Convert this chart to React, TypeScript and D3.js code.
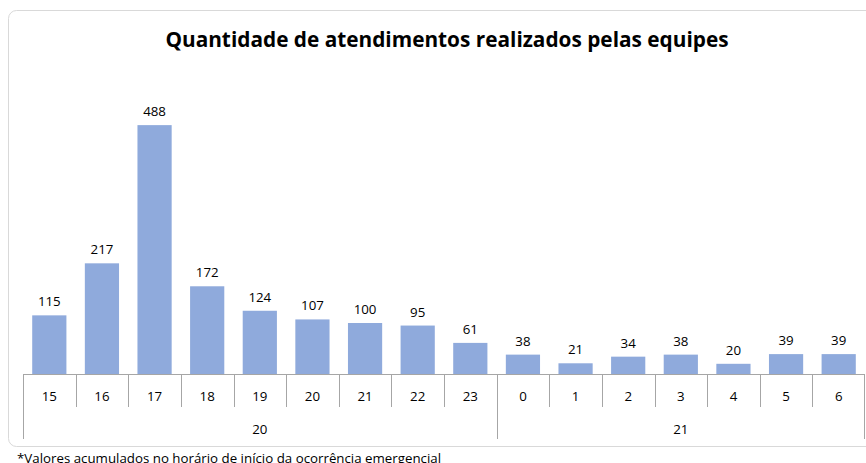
import React, { useRef, useEffect } from 'react'
import * as d3 from 'd3'

// hours (x categories), grouped by day
const hours = ['15', '16', '17', '18', '19', '20', '21', '22', '23', '0', '1', '2', '3', '4', '5', '6']
const days = ['20', '20', '20', '20', '20', '20', '20', '20', '20', '21', '21', '21', '21', '21', '21', '21']
const atendimentos = [115, 217, 488, 172, 124, 107, 100, 95, 61, 38, 21, 34, 38, 20, 39, 39]

const title = 'Quantidade de atendimentos realizados pelas equipes'
const footnote = '*Valores acumulados no horário de início da ocorrência emergencial'

const W = 866
const H = 463

const App = () => {
  const ref = useRef<SVGSVGElement>(null)

  useEffect(() => {
    const svg = d3.select(ref.current)
    svg.selectAll('*').remove()

    const font = 'Open Sans, Noto Sans, sans-serif'
    const left = 23, right = 865, base = 374

    // chart frame
    svg.append('rect')
      .attr('x', 8.5).attr('y', 10.5)
      .attr('width', 900).attr('height', 436)
      .attr('rx', 8)
      .attr('fill', '#fff')
      .attr('stroke', '#d9d9d9')

    svg.append('text')
      .attr('x', 447).attr('y', 47)
      .attr('text-anchor', 'middle')
      .style('font-family', font)
      .style('font-weight', 700)
      .style('font-size', '20.8px')
      .attr('fill', '#000')
      .text(title)

    const x = d3.scaleBand().domain(hours.map((h, i) => i + '')).range([left, right]).paddingInner(0.35).paddingOuter(0.175)
    const y = d3.scaleLinear().domain([0, 600]).range([base, base - 306])

    const g = svg.append('g')

    g.selectAll('rect.bar')
      .data(atendimentos)
      .join('rect')
      .attr('class', 'bar')
      .attr('x', (d, i) => x(i + '')!)
      .attr('y', d => y(d))
      .attr('width', x.bandwidth())
      .attr('height', d => base - y(d))
      .attr('fill', '#8faadc')

    g.selectAll('text.val')
      .data(atendimentos)
      .join('text')
      .attr('class', 'val')
      .attr('x', (d, i) => x(i + '')! + x.bandwidth() / 2)
      .attr('y', d => y(d) - 9)
      .attr('text-anchor', 'middle')
      .style('font-family', font)
      .style('font-size', '13.3px')
      .attr('fill', '#000')
      .text(d => d)

    // baseline
    g.append('line')
      .attr('x1', left).attr('x2', right)
      .attr('y1', base + 0.5).attr('y2', base + 0.5)
      .attr('stroke', '#a6a6a6')

    const step = x.step()
    // hour tick separators
    hours.forEach((h, i) => {
      const xx = Math.round(left + i * step) + 0.5
      const isGroupEdge = i === 0 || days[i] !== days[i - 1]
      g.append('line')
        .attr('x1', xx).attr('x2', xx)
        .attr('y1', base).attr('y2', isGroupEdge ? 439 : 407)
        .attr('stroke', '#a6a6a6')
      g.append('text')
        .attr('x', left + (i + 0.5) * step)
        .attr('y', 401)
        .attr('text-anchor', 'middle')
        .style('font-family', font)
        .style('font-size', '13.3px')
        .attr('fill', '#000')
        .text(h)
    })
    g.append('line')
      .attr('x1', right - 0.5).attr('x2', right - 0.5)
      .attr('y1', base).attr('y2', 439)
      .attr('stroke', '#a6a6a6')

    // day group labels
    const groups = d3.groups(days.map((d, i) => ({ d, i })), e => e.d)
    groups.forEach(([day, items]) => {
      const first = items[0].i, last = items[items.length - 1].i
      g.append('text')
        .attr('x', left + ((first + last + 1) / 2) * step)
        .attr('y', 434)
        .attr('text-anchor', 'middle')
        .style('font-family', font)
        .style('font-size', '13.3px')
        .attr('fill', '#000')
        .text(day)
    })

    svg.append('text')
      .attr('x', 17).attr('y', 463)
      .style('font-family', font)
      .style('font-size', '13.3px')
      .attr('fill', '#000')
      .text(footnote)
  }, [])

  return (
    <svg
      ref={ref}
      width={W}
      height={H}
      style={{ position: 'absolute', left: 0, top: 0, background: '#fff' }}
    />
  )
}

export default App
